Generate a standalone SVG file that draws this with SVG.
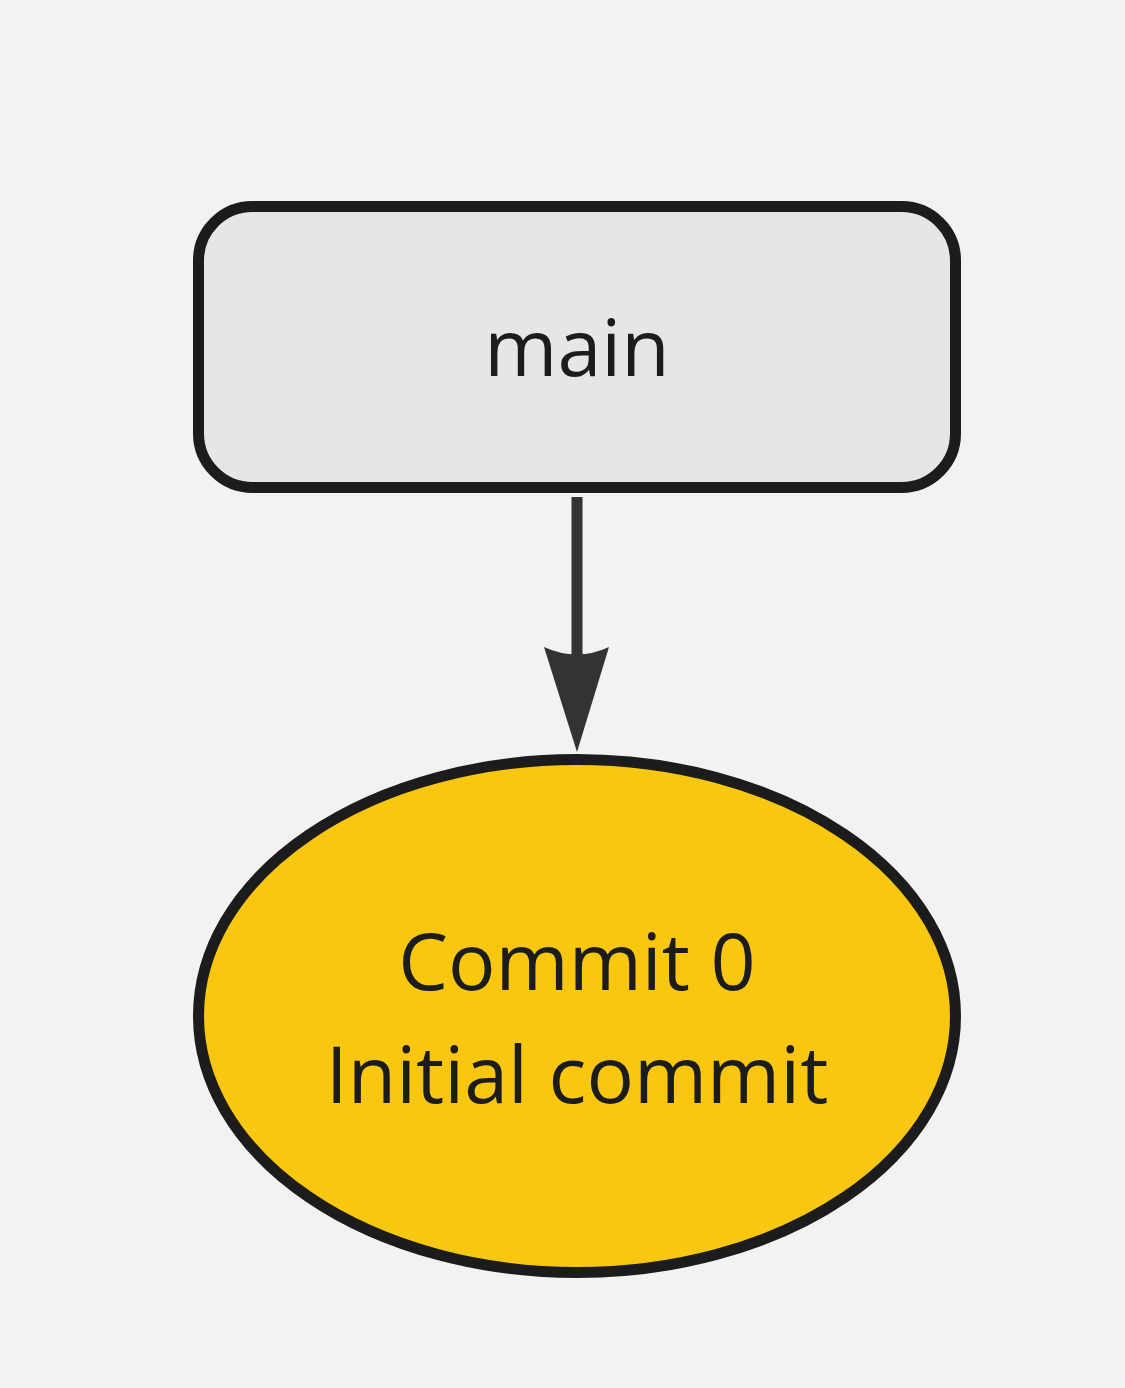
<svg xmlns="http://www.w3.org/2000/svg" width="1125" height="1388" viewBox="0 0 1125 1388">
<defs>
<style>
.lbl{font-family:"Open Sans","Noto Sans","DejaVu Sans",sans-serif;font-size:79px;fill:#1c1c1c;text-anchor:middle}
.shape{stroke:#1c1c1c;stroke-width:11}
</style>
</defs>
<rect width="1125" height="1388" fill="#f2f2f2"/>
<g id="edges">
<line x1="577" y1="497" x2="577" y2="656" stroke="#333333" stroke-width="11"/>
<path d="M544,647 Q577,662 609,647 L577,752 Z" fill="#333333"/>
</g>
<g id="main">
<rect class="shape" x="198.5" y="206.5" width="757" height="281" rx="54" ry="54" fill="#e6e6e6"/>
<text class="lbl" x="577" y="376">main</text>
</g>
<g id="commit0">
<ellipse class="shape" cx="577" cy="1016" rx="378.5" ry="256.5" fill="#f9c710"/>
<text class="lbl" x="577" y="990">Commit 0</text>
<text class="lbl" x="577" y="1103">Initial commit</text>
</g>
</svg>
